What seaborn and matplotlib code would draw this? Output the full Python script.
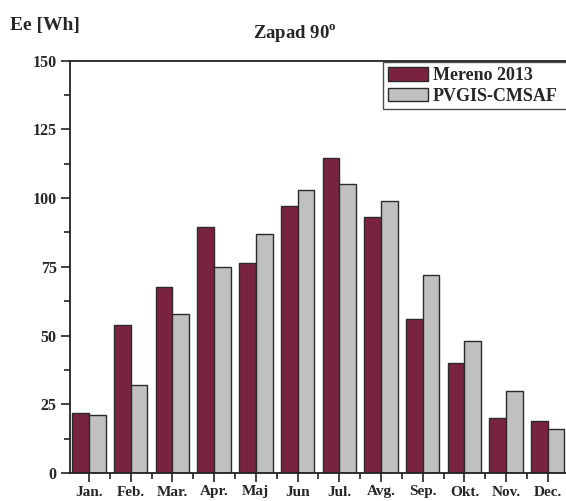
import numpy as np
import pandas as pd
import matplotlib
matplotlib.use("Agg")
import matplotlib.pyplot as plt
from matplotlib.ticker import FixedLocator, MultipleLocator
import seaborn as sns

# Monthly energy yield, west-facing module at 90 degrees
months = ["Jan.", "Feb.", "Mar.", "Apr.", "Maj", "Jun", "Jul.", "Avg.",
          "Sep.", "Okt.", "Nov.", "Dec."]
measured_2013 = [22, 54, 67.5, 89.5, 76.5, 97, 114.5, 93, 56, 40, 20, 19]
pvgis_cmsaf = [21, 32, 58, 75, 87, 103, 105, 99, 72, 48, 30, 16]
series_names = ["Mereno 2013", "PVGIS-CMSAF"]
series_colors = ["#7A2340", "#C0C0C0"]
y_ticks = [0, 25, 50, 75, 100, 125, 150]

df = pd.DataFrame({
    "month": months * 2,
    "value": measured_2013 + pvgis_cmsaf,
    "series": [series_names[0]] * len(months) + [series_names[1]] * len(months),
})

sns.set_style("ticks")
plt.rcParams["font.family"] = ["Liberation Serif", "DejaVu Serif"]
plt.rcParams["font.weight"] = "bold"
plt.rcParams["mathtext.fontset"] = "custom"
plt.rcParams["mathtext.rm"] = "Liberation Serif:bold"

fig = plt.figure(figsize=(5.66, 5.01), dpi=100)
ax = fig.add_axes([70 / 566, 1 - 473 / 501, 497 / 566, 412.3 / 501])

sns.barplot(data=df, x="month", y="value", hue="series", order=months,
            hue_order=series_names, palette=series_colors, width=0.8,
            edgecolor="#2a2a2a", linewidth=1.0, saturation=1, ax=ax)

ax.set_xlim(-0.455, 11.46)
ax.set_ylim(0, 150)
ax.set_xlabel("")
ax.set_ylabel("")

ax.yaxis.set_major_locator(FixedLocator(y_ticks))
ax.yaxis.set_minor_locator(MultipleLocator(12.5))
ax.xaxis.set_minor_locator(FixedLocator(np.arange(-0.5, 12, 1)))
ax.tick_params(axis="both", which="major", length=6.5, width=1.2,
               color="#222222", labelsize=11.5, pad=3)
ax.tick_params(axis="both", which="minor", length=4, width=1.2,
               color="#222222")
ax.tick_params(axis="x", which="major", pad=2.5, labelsize=11)
for lab in ax.get_xticklabels() + ax.get_yticklabels():
    lab.set_fontweight("bold")

for side in ["left", "bottom", "top"]:
    ax.spines[side].set_linewidth(1.3)
    ax.spines[side].set_color("#222222")
ax.spines["right"].set_visible(False)

handles, labels = ax.get_legend_handles_labels()
leg = ax.legend(handles, labels, loc="upper left",
                bbox_to_anchor=((383 - 70) / 497, 0.996, 0.40, 0.0),
                mode="expand", borderaxespad=0, frameon=True, fancybox=False,
                prop={"weight": "bold", "size": 13}, handlelength=2.25,
                handleheight=0.8, handletextpad=0.25, labelspacing=0.2,
                borderpad=0.25)
leg.get_frame().set_edgecolor("#222222")
leg.get_frame().set_linewidth(1.0)
for h in leg.legend_handles:
    h.set_edgecolor("#2a2a2a")
    h.set_linewidth(1.0)

fig.text(295 / 566, 1 - 37.5 / 501, "Zapad 90$^{\\mathrm{o}}$", ha="center",
         va="baseline", fontsize=13.5, fontweight="bold")
fig.text(10 / 566, 1 - 30 / 501, "Ee [Wh]", ha="left", va="baseline",
         fontsize=14, fontweight="bold")

fig.savefig("out.png", dpi=100, facecolor="white")
